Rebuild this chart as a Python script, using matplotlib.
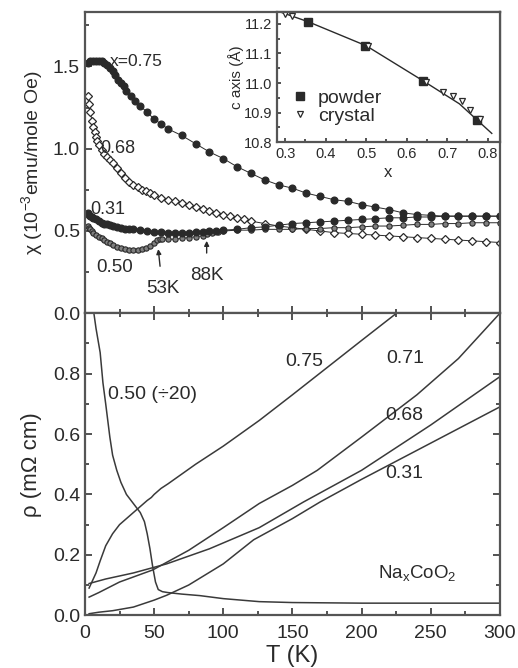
import matplotlib
matplotlib.use("Agg")
import matplotlib.pyplot as plt
from matplotlib.ticker import MultipleLocator

plt.rcParams['font.family'] = ['Liberation Sans', 'DejaVu Sans']
plt.rcParams['mathtext.fontset'] = 'custom'
plt.rcParams['mathtext.rm'] = 'Liberation Sans'
plt.rcParams['mathtext.it'] = 'Liberation Sans'

C = '#2a2a2a'

# ---------------- susceptibility data (top panel) ----------------
T_075 = [2, 4, 6, 8, 10, 12, 14, 16, 18, 20, 22, 24, 26, 28, 30, 33, 36, 40, 45, 50, 55, 60, 70, 80, 90,
         100, 110, 120, 130, 140, 150, 160, 170, 180, 190, 200, 210, 220, 230, 240, 250, 260, 270, 280, 290, 300]
chi_075 = [1.52, 1.53, 1.53, 1.53, 1.53, 1.53, 1.52, 1.51, 1.49, 1.47, 1.45, 1.42, 1.40, 1.38, 1.35, 1.32, 1.29,
           1.26, 1.22, 1.18, 1.15, 1.12, 1.08, 1.03, 0.98, 0.94, 0.89, 0.85, 0.81, 0.78, 0.76, 0.73, 0.71, 0.69,
           0.68, 0.66, 0.645, 0.63, 0.61, 0.60, 0.595, 0.59, 0.59, 0.59, 0.59, 0.59]

T_068 = [2, 3, 4, 5, 6, 7, 8, 9, 10, 12, 14, 16, 18, 20, 23, 26, 29, 32, 35, 38, 41, 44, 47, 50, 55, 60, 65, 70,
         75, 80, 85, 90, 95, 100, 105, 110, 115, 120, 130, 140, 150, 160, 170, 180, 190, 200, 210, 220, 230, 240,
         250, 260, 270, 280, 290, 300]
chi_068 = [1.32, 1.27, 1.22, 1.17, 1.13, 1.10, 1.07, 1.045, 1.02, 0.99, 0.97, 0.95, 0.93, 0.91, 0.88, 0.85, 0.82,
           0.80, 0.78, 0.765, 0.75, 0.74, 0.73, 0.72, 0.70, 0.69, 0.68, 0.67, 0.66, 0.645, 0.635, 0.62, 0.61, 0.60,
           0.59, 0.58, 0.57, 0.56, 0.545, 0.53, 0.52, 0.51, 0.50, 0.49, 0.485, 0.48, 0.475, 0.47, 0.465, 0.46,
           0.455, 0.45, 0.445, 0.44, 0.435, 0.43]

T_031 = [2, 3, 4, 5, 6, 8, 10, 12, 14, 16, 18, 20, 23, 26, 29, 32, 35, 40, 45, 50, 55, 60, 65, 70, 75, 80, 85, 90,
         95, 100, 110, 120, 130, 140, 150, 160, 170, 180, 190, 200, 210, 220, 230, 240, 250, 260, 270, 280, 290, 300]
chi_031 = [0.61, 0.60, 0.59, 0.585, 0.58, 0.57, 0.56, 0.55, 0.545, 0.54, 0.535, 0.53, 0.525, 0.52, 0.515, 0.51,
           0.51, 0.505, 0.50, 0.495, 0.495, 0.49, 0.49, 0.49, 0.49, 0.495, 0.495, 0.50, 0.50, 0.505, 0.51, 0.52,
           0.525, 0.535, 0.545, 0.55, 0.555, 0.56, 0.565, 0.57, 0.575, 0.58, 0.58, 0.585, 0.585, 0.59, 0.59, 0.59,
           0.59, 0.59]

T_050 = [2, 3, 4, 5, 6, 8, 10, 12, 14, 16, 18, 20, 23, 26, 29, 32, 35, 38, 41, 44, 47, 50, 52, 54, 56, 60, 65, 70,
         75, 80, 85, 88, 92, 96, 100, 110, 120, 130, 140, 150, 160, 170, 180, 190, 200, 210, 220, 230, 240, 250,
         260, 270, 280, 290, 300]
chi_050 = [0.53, 0.52, 0.51, 0.50, 0.49, 0.475, 0.465, 0.455, 0.445, 0.435, 0.425, 0.415, 0.405, 0.395, 0.39,
           0.385, 0.385, 0.385, 0.39, 0.395, 0.41, 0.43, 0.445, 0.45, 0.45, 0.45, 0.45, 0.455, 0.46, 0.465, 0.47,
           0.48, 0.49, 0.495, 0.50, 0.505, 0.505, 0.51, 0.51, 0.51, 0.515, 0.515, 0.52, 0.52, 0.525, 0.53, 0.53,
           0.535, 0.54, 0.54, 0.545, 0.545, 0.55, 0.55, 0.55]

# ---------------- inset data ----------------
x_powder = [0.357, 0.497, 0.64, 0.773]
c_powder = [11.207, 11.126, 11.008, 10.874]
x_crystal = [0.30, 0.317, 0.505, 0.647, 0.689, 0.714, 0.736, 0.756, 0.78]
c_crystal = [11.234, 11.227, 11.126, 11.005, 10.971, 10.955, 10.938, 10.908, 10.88]
x_fit = [0.288, 0.357, 0.50, 0.64, 0.73, 0.81]
c_fit = [11.24, 11.207, 11.126, 11.008, 10.93, 10.83]

# ---------------- resistivity data (bottom panel) ----------------
T_r050 = [4, 8, 11, 13, 15, 18, 20, 23, 26, 30, 35, 40, 43, 45, 47, 49, 51, 53, 56, 60, 70, 83, 100, 126, 150,
          200, 250, 300]
rho_050 = [1.08, 0.95, 0.87, 0.77, 0.70, 0.59, 0.53, 0.48, 0.44, 0.40, 0.37, 0.34, 0.31, 0.27, 0.22, 0.16, 0.11,
           0.085, 0.078, 0.075, 0.07, 0.065, 0.055, 0.045, 0.042, 0.04, 0.04, 0.04]
T_r075 = [3, 5, 8, 11, 15, 20, 25, 30, 35, 40, 45, 48, 50, 55, 60, 80, 100, 126, 150, 175, 200, 228]
rho_075 = [0.09, 0.11, 0.14, 0.18, 0.23, 0.27, 0.30, 0.32, 0.34, 0.36, 0.38, 0.39, 0.40, 0.42, 0.435, 0.50,
           0.56, 0.645, 0.73, 0.82, 0.91, 1.01]
T_r071 = [3, 10, 25, 49, 75, 100, 126, 150, 168, 200, 240, 270, 300]
rho_071 = [0.06, 0.075, 0.11, 0.15, 0.215, 0.29, 0.37, 0.43, 0.48, 0.59, 0.73, 0.85, 1.0]
T_r068 = [3, 15, 35, 59, 90, 126, 158, 200, 250, 300]
rho_068 = [0.105, 0.12, 0.14, 0.17, 0.22, 0.29, 0.375, 0.48, 0.63, 0.79]
T_r031 = [3, 10, 20, 35, 50, 59, 75, 100, 122, 150, 170, 200, 250, 300]
rho_031 = [0.005, 0.01, 0.015, 0.027, 0.05, 0.066, 0.10, 0.17, 0.25, 0.32, 0.375, 0.45, 0.57, 0.69]

fig = plt.figure(figsize=(5.18, 6.68), dpi=100)
ax1 = fig.add_axes([0.164, 0.531, 0.801, 0.451])
ax2 = fig.add_axes([0.164, 0.079, 0.801, 0.452])
axi = fig.add_axes([0.535, 0.787, 0.43, 0.195])

def style(ax, fs=14):
    for s in ax.spines.values():
        s.set_color('#555555')
        s.set_linewidth(1.6)
    ax.tick_params(which='both', direction='in', colors='#444444', labelcolor=C, labelsize=fs, width=1.3)
    ax.tick_params(which='major', length=5)
    ax.tick_params(which='minor', length=3)

# top panel
ax1.plot(T_068, chi_068, '-', color=C, lw=0.7, marker='D', ms=3.6, mfc='white', mec=C, mew=0.9)
ax1.plot(T_050, chi_050, '-', color=C, lw=0.7, marker='o', ms=3.8, mfc='#808080', mec=C, mew=0.8)
ax1.plot(T_031, chi_031, '-', color=C, lw=0.7, marker='o', ms=4.8, mfc=C, mec=C)
ax1.plot(T_075, chi_075, '-', color=C, lw=0.7, marker='o', ms=4.8, mfc=C, mec=C)
ax1.set_xlim(0, 300)
ax1.set_ylim(0, 1.83)
ax1.xaxis.set_major_locator(MultipleLocator(50))
ax1.xaxis.set_minor_locator(MultipleLocator(25))
ax1.yaxis.set_minor_locator(MultipleLocator(0.25))
ax1.set_yticks([0, 0.5, 1.0, 1.5])
ax1.set_yticklabels(['0.0', '0.5', '1.0', '1.5'])
ax1.tick_params(axis='x', labelbottom=False)
style(ax1)
ax1.set_ylabel('χ (10$^{-3}$emu/mole Oe)', fontsize=14, color=C, labelpad=6)
ax1.text(18, 1.53, 'x=0.75', fontsize=12.5, color=C, va='center')
ax1.text(11, 1.0, '0.68', fontsize=13, color=C, va='center')
ax1.text(4, 0.63, '0.31', fontsize=13, color=C, va='center')
ax1.text(8, 0.28, '0.50', fontsize=13.5, color=C, va='center')
ax1.annotate('53K', xy=(53, 0.39), xytext=(56, 0.15), fontsize=13.5, color=C, ha='center', va='center',
             arrowprops=dict(arrowstyle='-|>', color=C, lw=1.0, shrinkA=8, shrinkB=0, mutation_scale=7))
ax1.annotate('88K', xy=(88, 0.44), xytext=(88, 0.23), fontsize=13.5, color=C, ha='center', va='center',
             arrowprops=dict(arrowstyle='-|>', color=C, lw=1.0, shrinkA=8, shrinkB=0, mutation_scale=7))

# inset
axi.plot(x_fit, c_fit, '-', color=C, lw=1.0)
axi.plot(x_powder, c_powder, 's', color=C, ms=6, label='powder')
axi.plot(x_crystal, c_crystal, 'v', ms=5, mfc='white', mec=C, mew=0.9, ls='none', label='crystal')
axi.set_xlim(0.28, 0.83)
axi.set_ylim(10.8, 11.24)
axi.set_xticks([0.3, 0.4, 0.5, 0.6, 0.7, 0.8])
axi.xaxis.set_minor_locator(MultipleLocator(0.05))
axi.set_yticks([10.8, 10.9, 11.0, 11.1, 11.2])
axi.yaxis.set_minor_locator(MultipleLocator(0.05))
style(axi, fs=10.5)
axi.tick_params(which='major', length=3)
axi.tick_params(which='minor', length=2)
axi.set_xlabel('x', fontsize=12, color=C, labelpad=3)
axi.set_ylabel('c axis (Å)', fontsize=11, color=C, labelpad=0)
axi.legend(loc='lower left', bbox_to_anchor=(0.0, 0.03), frameon=False, fontsize=14, handletextpad=0.4,
           labelspacing=0.0, handlelength=1.0, labelcolor=C, borderaxespad=0.3)

# bottom panel
for Tr, rr in [(T_r050, rho_050), (T_r075, rho_075), (T_r071, rho_071), (T_r068, rho_068), (T_r031, rho_031)]:
    ax2.plot(Tr, rr, '-', color='#3a3a3a', lw=1.1)
ax2.set_xlim(0, 300)
ax2.set_ylim(0, 1.0)
ax2.xaxis.set_major_locator(MultipleLocator(50))
ax2.xaxis.set_minor_locator(MultipleLocator(25))
ax2.set_yticks([0, 0.2, 0.4, 0.6, 0.8, 1.0])
ax2.set_yticklabels(['0.0', '0.2', '0.4', '0.6', '0.8', ''])
ax2.yaxis.set_minor_locator(MultipleLocator(0.1))
ax2.tick_params(which='both', right=True, top=True)
style(ax2)
ax2.tick_params(axis='x', pad=7)
ax2.set_xlabel('T (K)', fontsize=17, color=C, labelpad=2)
ax2.set_ylabel('ρ (mΩ cm)', fontsize=16, color=C, labelpad=8)
ax2.text(17, 0.73, '0.50 (÷20)', fontsize=14, color=C, va='center')
ax2.text(145, 0.84, '0.75', fontsize=14, color=C, va='center')
ax2.text(218, 0.85, '0.71', fontsize=14, color=C, va='center')
ax2.text(217, 0.66, '0.68', fontsize=14, color=C, va='center')
ax2.text(217, 0.47, '0.31', fontsize=14, color=C, va='center')
ax2.text(212, 0.14, 'Na$_x$CoO$_2$', fontsize=13.5, color=C, va='center')

fig.savefig('out.png', dpi=100)
